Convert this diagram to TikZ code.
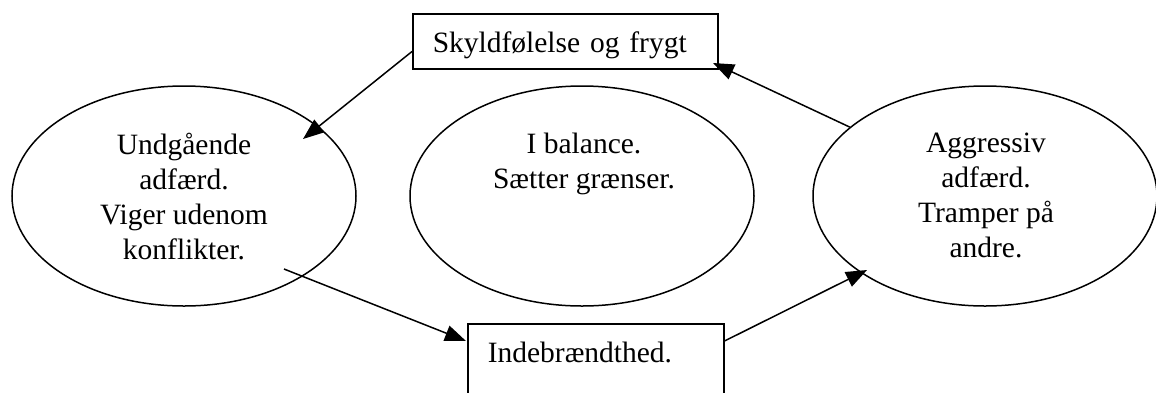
\documentclass[tikz,border=0pt]{standalone}
\usepackage{fontspec}
\setmainfont{Liberation Serif}
\usetikzlibrary{shapes.geometric,arrows.meta}

\tikzset{
  oval/.style={draw, ellipse, minimum width=344pt, minimum height=220pt, inner sep=0pt, line width=1.5pt},
  boks/.style={draw, rectangle, anchor=north west, inner ysep=0pt, inner xsep=20pt, align=left, line width=1.5pt, font=\fontsize{29.5}{35}\selectfont},
  tekst/.style={align=center, anchor=north, inner sep=0pt, font=\fontsize{29.5}{35}\selectfont},
  pil/.style={-{Triangle[length=21pt,width=16pt]}, line width=1.5pt}
}

\begin{document}
\begin{tikzpicture}[x=1pt, y=-1pt]
        \useasboundingbox (0,0) rectangle (1156,392);

        \node[oval] (undg) at (184,196) {};
        \node[oval] (bal) at (582,196) {};
        \node[oval] (aggr) at (985,196) {};

        \node[tekst] (undgtxt) at (184,133) {Undgående\\adfærd.\\Viger udenom\\konflikter.};
        \node[tekst] (baltxt) at (584,133) {I balance.\\Sætter grænser.};
        \node[tekst] (aggrtxt) at (986,133) {Aggressiv\\adfærd.\\Tramper på\\andre.};

        \node[boks, text width=265pt, text height=39pt, text depth=16pt] (skyld) at (412,13) {Skyldfølelse og frygt};
        \node[boks, text width=216pt, text height=39pt, text depth=40pt] (indeb) at (467,323) {Indebrændthed.};

        \coordinate (t1) at (303,139);
        \coordinate (t2) at (713,63);
        \coordinate (s3) at (284,269);
        \coordinate (t3) at (466,341);
        \coordinate (t4) at (867,270);

        \draw[pil] ([yshift=18pt]skyld.south west) -- (t1);
        \draw[pil] (aggr.153) -- (t2);
        \draw[pil] (s3) -- (t3);
        \draw[pil] ([yshift=-18pt]indeb.north east) -- (t4);
    \end{tikzpicture}
\end{document}
